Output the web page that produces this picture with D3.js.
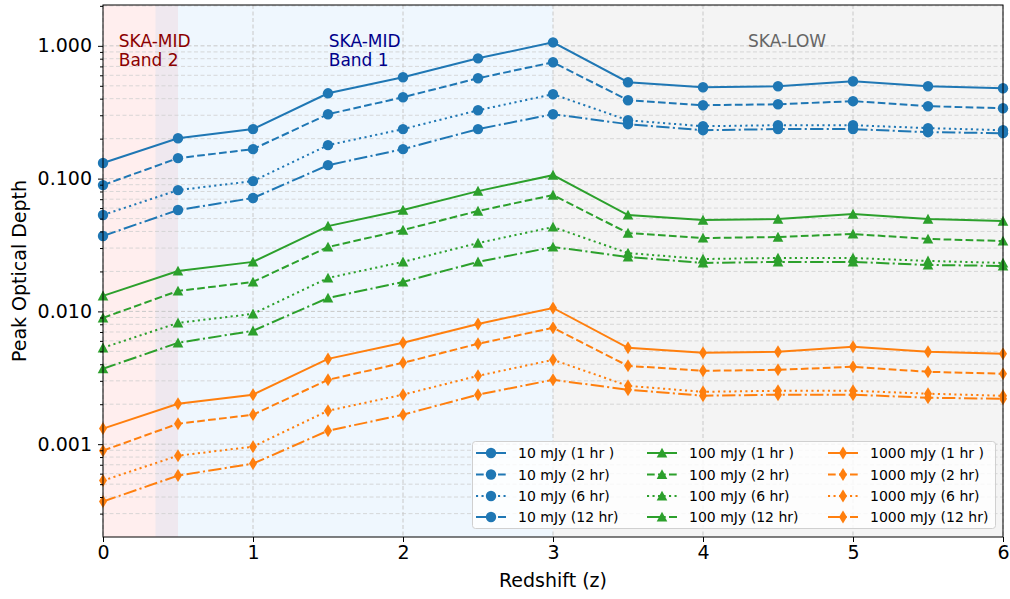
<!DOCTYPE html>
<html>
<head>
<meta charset="utf-8">
<script src="https://cdn.jsdelivr.net/npm/d3@7"></script>
<style>
  body { margin: 0; background: #fff; }
  svg { font-family: "DejaVu Sans", sans-serif; }
</style>
</head>
<body>
<div id="chart"></div>
<script>
// redshift grid
var redshift = [0, 0.5, 1, 1.5, 2, 2.5, 3, 3.5, 4, 4.5, 5, 5.5, 6];

// 10 mJy
var mjy10_1hr  = [0.131, 0.2015, 0.236, 0.439, 0.580, 0.805, 1.062, 0.532, 0.4875, 0.496, 0.541, 0.496, 0.479];
var mjy10_2hr  = [0.0894, 0.1426, 0.1667, 0.3055, 0.410, 0.570, 0.752, 0.389, 0.357, 0.363, 0.383, 0.351, 0.339];
var mjy10_6hr  = [0.0532, 0.0819, 0.0958, 0.1786, 0.236, 0.327, 0.432, 0.275, 0.248, 0.2525, 0.2525, 0.240, 0.2316];
var mjy10_12hr = [0.0370, 0.0580, 0.0714, 0.1263, 0.1667, 0.236, 0.3055, 0.257, 0.2316, 0.236, 0.236, 0.2237, 0.2199];

// 100 mJy
var mjy100_1hr  = [0.0131, 0.02015, 0.0236, 0.0439, 0.0580, 0.0805, 0.1062, 0.0532, 0.04875, 0.0496, 0.0541, 0.0496, 0.0479];
var mjy100_2hr  = [0.00894, 0.01426, 0.01667, 0.03055, 0.0410, 0.0570, 0.0752, 0.0389, 0.0357, 0.0363, 0.0383, 0.0351, 0.0339];
var mjy100_6hr  = [0.00532, 0.00819, 0.00958, 0.01786, 0.0236, 0.0327, 0.0432, 0.0275, 0.0248, 0.02525, 0.02525, 0.0240, 0.02316];
var mjy100_12hr = [0.00370, 0.00580, 0.00714, 0.01263, 0.01667, 0.0236, 0.03055, 0.0257, 0.02316, 0.0236, 0.0236, 0.02237, 0.02199];

// 1000 mJy
var mjy1000_1hr  = [0.00131, 0.002015, 0.00236, 0.00439, 0.00580, 0.00805, 0.01062, 0.00532, 0.004875, 0.00496, 0.00541, 0.00496, 0.00479];
var mjy1000_2hr  = [0.000894, 0.001426, 0.001667, 0.003055, 0.00410, 0.00570, 0.00752, 0.00389, 0.00357, 0.00363, 0.00383, 0.00351, 0.00339];
var mjy1000_6hr  = [0.000532, 0.000819, 0.000958, 0.001786, 0.00236, 0.00327, 0.00432, 0.00275, 0.00248, 0.002525, 0.002525, 0.00240, 0.002316];
var mjy1000_12hr = [0.000370, 0.000580, 0.000714, 0.001263, 0.001667, 0.00236, 0.003055, 0.00257, 0.002316, 0.00236, 0.00236, 0.002237, 0.002199];

var xTicks = [0, 1, 2, 3, 4, 5, 6];
var yTicks = [0.001, 0.01, 0.1, 1];

// band shading
var bands = [
  {name: "SKA-MID\nBand 2", z0: 0, z1: 0.5, fill: "rgba(255,120,120,0.13)", text: "#8b0000", tx: 0.105},
  {name: "SKA-MID\nBand 1", z0: 0.35, z1: 3.0, fill: "rgba(140,195,250,0.14)", text: "#00008b", tx: 1.505},
  {name: "SKA-LOW", z0: 3.0, z1: 6.0, fill: "rgba(128,128,128,0.09)", text: "#666666", tx: 4.3}
];

var series = [
  {label: "10 mJy (1 hr )", data: mjy10_1hr, color: "#1f77b4", dash: null, marker: "circle"},
  {label: "10 mJy (2 hr)", data: mjy10_2hr, color: "#1f77b4", dash: "7.7,3.3", marker: "circle"},
  {label: "10 mJy (6 hr)", data: mjy10_6hr, color: "#1f77b4", dash: "2.1,3.4", marker: "circle"},
  {label: "10 mJy (12 hr)", data: mjy10_12hr, color: "#1f77b4", dash: "13.3,3.3,2.1,3.3", marker: "circle"},
  {label: "100 mJy (1 hr )", data: mjy100_1hr, color: "#2ca02c", dash: null, marker: "triangle"},
  {label: "100 mJy (2 hr)", data: mjy100_2hr, color: "#2ca02c", dash: "7.7,3.3", marker: "triangle"},
  {label: "100 mJy (6 hr)", data: mjy100_6hr, color: "#2ca02c", dash: "2.1,3.4", marker: "triangle"},
  {label: "100 mJy (12 hr)", data: mjy100_12hr, color: "#2ca02c", dash: "13.3,3.3,2.1,3.3", marker: "triangle"},
  {label: "1000 mJy (1 hr )", data: mjy1000_1hr, color: "#ff7f0e", dash: null, marker: "diamond"},
  {label: "1000 mJy (2 hr)", data: mjy1000_2hr, color: "#ff7f0e", dash: "7.7,3.3", marker: "diamond"},
  {label: "1000 mJy (6 hr)", data: mjy1000_6hr, color: "#ff7f0e", dash: "2.1,3.4", marker: "diamond"},
  {label: "1000 mJy (12 hr)", data: mjy1000_12hr, color: "#ff7f0e", dash: "13.3,3.3,2.1,3.3", marker: "diamond"}
];

var W = 1010, H = 599;
var margin = {top: 5, right: 7, bottom: 62, left: 103};
var width = W - margin.left - margin.right,
    height = H - margin.top - margin.bottom;

var svg = d3.select("#chart").append("svg")
    .attr("width", W).attr("height", H);
var g = svg.append("g")
    .attr("transform", "translate(" + margin.left + "," + margin.top + ")");

var x = d3.scaleLinear().domain([0, 6]).range([0, width]);
var y = d3.scaleLog().domain([2e-4, 2.03]).range([height, 0]);

// shaded bands
g.selectAll(".band").data(bands).enter().append("rect")
  .attr("x", function(d) { return x(d.z0); })
  .attr("width", function(d) { return x(d.z1) - x(d.z0); })
  .attr("y", 0).attr("height", height)
  .attr("fill", function(d) { return d.fill; });

// grid: minor y
var minorTicks = [];
[1e-4, 1e-3, 1e-2, 1e-1, 1].forEach(function(dec) {
  for (var k = 2; k <= 9; k++) {
    var v = dec * k;
    if (v > y.domain()[0] && v < y.domain()[1]) minorTicks.push(v);
  }
});
g.selectAll(".gminor").data(minorTicks).enter().append("line")
  .attr("x1", 0).attr("x2", width)
  .attr("y1", function(d) { return y(d); }).attr("y2", function(d) { return y(d); })
  .attr("stroke", "#cfcfcf").attr("stroke-width", 0.8).attr("stroke-dasharray", "4,2.5");
g.selectAll(".gmajor").data(yTicks).enter().append("line")
  .attr("x1", 0).attr("x2", width)
  .attr("y1", function(d) { return y(d); }).attr("y2", function(d) { return y(d); })
  .attr("stroke", "#c8c8c8").attr("stroke-width", 1).attr("stroke-dasharray", "4,2.5");
g.selectAll(".gx").data(xTicks).enter().append("line")
  .attr("y1", 0).attr("y2", height)
  .attr("x1", function(d) { return x(d); }).attr("x2", function(d) { return x(d); })
  .attr("stroke", "#c8c8c8").attr("stroke-width", 1).attr("stroke-dasharray", "4,2.5");

// band labels
bands.forEach(function(b) {
  var t = g.append("text")
    .attr("y", 42)
    .attr("fill", b.text)
    .style("font-size", "17px");
  b.name.split("\n").forEach(function(line, i) {
    t.append("tspan").attr("x", x(b.tx)).attr("dy", i === 0 ? 0 : 19).text(line);
  });
});

// markers
function drawMarker(sel, type, color) {
  if (type === "diamond") {
    sel.append("path").attr("d", "M0,-6.5L4,0L0,6.5L-4,0Z").attr("fill", color);
  } else if (type === "triangle") {
    sel.append("path").attr("d", "M0,-5.3L5.3,4.6L-5.3,4.6Z").attr("fill", color);
  } else {
    sel.append("circle").attr("r", 5.2).attr("fill", color);
  }
}

var line = d3.line()
  .x(function(d, i) { return x(redshift[i]); })
  .y(function(d) { return y(d); });

var plot = g.append("g");
series.forEach(function(s) {
  plot.append("path")
    .datum(s.data)
    .attr("d", line)
    .attr("fill", "none")
    .attr("stroke", s.color)
    .attr("stroke-width", 2)
    .attr("stroke-dasharray", s.dash);
  s.data.forEach(function(v, i) {
    var m = plot.append("g").attr("transform", "translate(" + x(redshift[i]) + "," + y(v) + ")");
    drawMarker(m, s.marker, s.color);
  });
});

// frame
g.append("rect").attr("width", width).attr("height", height)
  .attr("fill", "none").attr("stroke", "#000").attr("stroke-width", 1);

// axes
g.append("g").attr("transform", "translate(0," + height + ")")
  .call(d3.axisBottom(x).tickValues(xTicks).tickFormat(d3.format("d")).tickSize(5).tickPadding(3.5));
g.append("g")
  .call(d3.axisLeft(y).tickValues(yTicks).tickFormat(d3.format(".3f")).tickSize(5).tickPadding(6));
g.append("g")
  .call(d3.axisLeft(y).tickValues(minorTicks).tickFormat("").tickSize(3));
g.selectAll(".domain").remove();
g.selectAll(".tick text").style("font-size", "19px").attr("fill", "#000")
  .style("font-family", "DejaVu Sans, sans-serif");
g.selectAll(".tick line").attr("stroke", "#000");

// axis labels
svg.append("text")
  .attr("x", margin.left + width / 2).attr("y", 587)
  .attr("text-anchor", "middle").style("font-size", "19px")
  .text("Redshift (z)");
svg.append("text")
  .attr("transform", "translate(26," + (margin.top + height / 2) + ") rotate(-90)")
  .attr("text-anchor", "middle").style("font-size", "19px")
  .text("Peak Optical Depth");

// legend
var lg = svg.append("g");
lg.append("rect")
  .attr("x", 472.5).attr("y", 441.5).attr("width", 523).attr("height", 87)
  .attr("rx", 3).attr("fill", "rgba(255,255,255,0.8)").attr("stroke", "#d0d0d0");
var colX = [476, 647, 828];
var rowY = [453, 474.5, 496, 517];
series.forEach(function(s, i) {
  var c = Math.floor(i / 4), r = i % 4;
  var item = lg.append("g").attr("transform", "translate(" + colX[c] + "," + rowY[r] + ")");
  item.append("line").attr("x1", 0).attr("x2", 30).attr("y1", 0).attr("y2", 0)
    .attr("stroke", s.color).attr("stroke-width", 2).attr("stroke-dasharray", s.dash);
  drawMarker(item.append("g").attr("transform", "translate(15,0)"), s.marker, s.color);
  item.append("text").attr("x", 42).attr("y", 5).style("font-size", "14px").text(s.label);
});
</script>
</body>
</html>
